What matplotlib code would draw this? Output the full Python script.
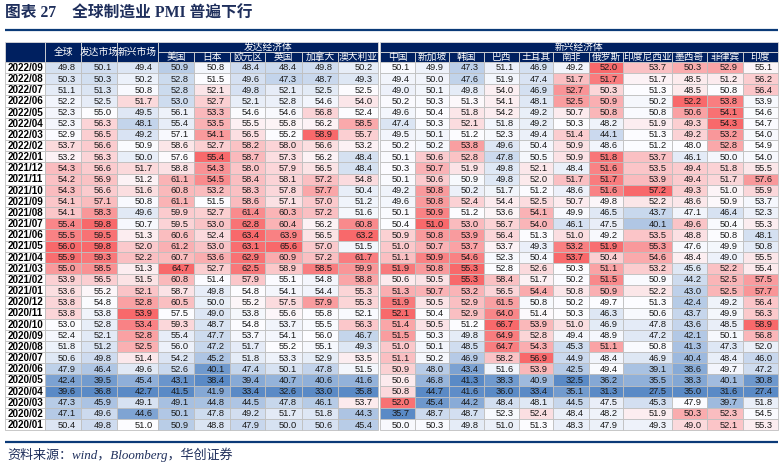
import numpy as np
import matplotlib
matplotlib.use("Agg")
import matplotlib.pyplot as plt
from matplotlib.patches import Rectangle
from matplotlib.colors import to_rgb

# 月份（行）
months = ["2022/09", "2022/08", "2022/07", "2022/06", "2022/05", "2022/04", "2022/03",
          "2022/02", "2022/01", "2021/12", "2021/11", "2021/10", "2021/09", "2021/08",
          "2021/07", "2021/06", "2021/05", "2021/04", "2021/03", "2021/02", "2021/01",
          "2020/12", "2020/11", "2020/10", "2020/09", "2020/08", "2020/07", "2020/06",
          "2020/05", "2020/04", "2020/03", "2020/02", "2020/01"]

# 列名
top_cols = ["全球", "发达市场", "新兴市场"]
dev_cols = ["美国", "日本", "欧元区", "英国", "加拿大", "澳大利亚"]
emg_cols = ["中国", "新加坡", "韩国", "巴西", "土耳其", "南非", "俄罗斯",
            "印度尼西亚", "墨西哥", "菲律宾", "印度"]

# PMI 数据
quanqiu = [49.8, 50.3, 51.1, 52.2, 52.3, 52.3, 52.9, 53.7, 53.2, 54.3, 54.2, 54.3, 54.1, 54.1, 55.4, 55.5, 56.0,
           55.9, 55.0, 53.9, 53.6, 53.8, 53.8, 53.0, 52.4, 51.8, 50.6, 47.9, 42.4, 39.6, 47.3, 47.1, 50.4]
fada = [50.1, 50.3, 51.3, 52.5, 55.0, 56.3, 56.5, 56.6, 56.3, 56.6, 56.9, 56.6, 57.1, 58.3, 59.8, 59.5, 59.8,
        59.3, 58.5, 56.5, 55.2, 54.8, 53.8, 52.8, 52.1, 51.2, 49.8, 46.4, 39.5, 36.8, 45.9, 49.6, 49.8]
xinxing = [49.4, 50.2, 50.8, 51.7, 49.5, 48.1, 49.2, 50.9, 50.0, 51.7, 51.2, 51.6, 50.8, 49.6, 50.7, 51.3, 52.0,
           52.2, 51.3, 51.5, 52.1, 52.8, 53.9, 53.4, 52.8, 52.5, 51.4, 49.6, 45.4, 42.7, 49.1, 44.6, 51.0]
usa = [50.9, 52.8, 52.8, 53.0, 56.1, 55.4, 57.1, 58.6, 57.6, 58.8, 61.1, 60.8, 61.1, 59.9, 59.5, 60.6, 61.2,
       60.7, 64.7, 60.8, 58.7, 60.5, 57.5, 59.3, 55.4, 56.0, 54.2, 52.6, 43.1, 41.5, 49.1, 50.1, 50.9]
japan = [50.8, 51.5, 52.1, 52.7, 53.3, 53.5, 54.1, 52.7, 55.4, 54.3, 54.5, 53.2, 51.5, 52.7, 53.0, 52.4, 53.0,
         53.6, 52.7, 51.4, 49.8, 50.0, 49.0, 48.7, 47.7, 47.2, 45.2, 40.1, 38.4, 41.9, 44.8, 47.8, 48.8]
euro = [48.4, 49.6, 49.8, 52.1, 54.6, 55.5, 56.5, 58.2, 58.7, 58.0, 58.4, 58.3, 58.6, 61.4, 62.8, 63.4, 63.1,
        62.9, 62.5, 57.9, 54.8, 55.2, 53.8, 54.8, 53.7, 51.7, 51.8, 47.4, 39.4, 33.4, 44.5, 49.2, 47.9]
uk = [48.4, 47.3, 52.1, 52.8, 54.6, 55.8, 55.2, 58.0, 57.3, 57.9, 58.1, 57.8, 57.1, 60.3, 60.4, 63.9, 65.6,
      60.9, 58.9, 55.1, 54.1, 57.5, 55.6, 53.7, 54.1, 55.2, 53.3, 50.1, 40.7, 32.6, 47.8, 51.7, 50.0]
canada = [49.8, 48.7, 52.5, 54.6, 56.8, 56.2, 58.9, 56.6, 56.2, 56.5, 57.2, 57.7, 57.0, 57.2, 56.2, 56.5, 57.0,
          57.2, 58.5, 54.8, 54.4, 57.9, 55.8, 55.5, 56.0, 55.1, 52.9, 47.8, 40.6, 33.0, 46.1, 51.8, 50.6]
australia = [50.2, 49.3, 52.5, 54.0, 52.4, 58.5, 55.7, 53.2, 48.4, 48.4, 54.8, 50.4, 51.2, 51.6, 60.8, 63.2, 51.5,
             61.7, 59.9, 58.8, 55.3, 55.3, 52.1, 56.3, 46.7, 49.3, 53.5, 51.5, 41.6, 35.8, 53.7, 44.3, 45.4]
china = [50.1, 49.4, 49.0, 50.2, 49.6, 47.4, 49.5, 50.2, 50.1, 50.3, 50.1, 49.2, 49.6, 50.1, 50.4, 50.9, 51.0,
         51.1, 51.9, 50.6, 51.3, 51.9, 52.1, 51.4, 51.5, 51.0, 51.1, 50.9, 50.6, 50.8, 52.0, 35.7, 50.0]
singapore = [49.9, 50.0, 50.1, 50.3, 50.4, 50.3, 50.1, 50.2, 50.6, 50.7, 50.6, 50.8, 50.8, 50.9, 51.0, 50.8, 50.7,
             50.9, 50.8, 50.5, 50.7, 50.5, 50.4, 50.5, 50.3, 50.1, 50.2, 48.0, 46.8, 44.7, 45.4, 48.7, 50.3]
korea = [47.3, 47.6, 49.8, 51.3, 51.8, 52.1, 51.2, 53.8, 52.8, 51.9, 50.9, 50.2, 52.4, 51.2, 53.0, 53.9, 53.7,
         54.6, 55.3, 55.3, 53.2, 52.9, 52.9, 51.2, 49.8, 48.5, 46.9, 43.4, 41.3, 41.6, 44.2, 48.7, 49.8]
brazil = [51.1, 51.9, 54.0, 54.1, 54.2, 51.8, 52.3, 49.6, 47.8, 49.8, 49.8, 51.7, 54.4, 53.6, 56.7, 56.4, 53.7,
          52.3, 52.8, 58.4, 56.5, 61.5, 64.0, 66.7, 64.9, 64.7, 58.2, 51.6, 38.3, 36.0, 48.4, 52.3, 51.0]
turkey = [46.9, 47.4, 46.9, 48.1, 49.2, 49.2, 49.4, 50.4, 50.5, 52.1, 52.0, 51.2, 52.5, 54.1, 54.0, 51.3, 49.3,
          50.4, 52.6, 51.7, 54.4, 50.8, 51.4, 53.9, 52.8, 54.3, 56.9, 53.9, 40.9, 33.4, 48.1, 52.4, 51.3]
safrica = [49.2, 51.7, 52.7, 52.5, 50.7, 50.3, 51.4, 50.9, 50.9, 48.4, 51.7, 48.6, 50.7, 49.9, 46.1, 51.0, 53.2,
           53.7, 50.3, 50.2, 50.8, 50.2, 50.3, 51.0, 49.4, 45.3, 44.9, 42.5, 32.5, 35.1, 44.5, 48.4, 48.3]
russia = [52.0, 51.7, 50.3, 50.9, 50.8, 48.2, 44.1, 48.6, 51.8, 51.6, 51.7, 51.6, 49.8, 46.5, 47.5, 49.2, 51.9,
          50.4, 51.1, 51.5, 50.9, 49.7, 46.3, 46.9, 48.9, 51.1, 48.4, 49.4, 36.2, 31.3, 47.5, 48.2, 47.9]
indonesia = [53.7, 51.7, 51.3, 50.2, 50.8, 51.9, 51.3, 51.2, 53.7, 53.5, 53.9, 57.2, 52.2, 43.7, 40.1, 53.5, 55.3,
             54.6, 53.2, 50.9, 52.2, 51.3, 50.6, 47.8, 47.2, 50.8, 46.9, 39.1, 35.5, 27.5, 45.3, 51.9, 49.3]
mexico = [50.3, 48.5, 48.5, 52.2, 50.6, 49.3, 49.2, 48.0, 46.1, 49.4, 49.4, 49.3, 48.6, 47.1, 49.6, 48.8, 47.6,
          48.4, 45.6, 44.2, 43.0, 42.4, 43.7, 43.6, 42.1, 41.3, 40.4, 38.6, 38.3, 35.0, 47.9, 50.3, 49.0]
philippines = [52.9, 51.2, 50.8, 53.8, 54.1, 54.3, 53.2, 52.8, 50.0, 51.8, 51.7, 51.0, 50.9, 46.4, 50.4, 50.8, 49.9,
               49.0, 52.2, 52.5, 52.5, 49.2, 49.9, 48.5, 50.1, 47.3, 48.4, 49.7, 40.1, 31.6, 39.7, 52.3, 52.1]
india = [55.1, 56.2, 56.4, 53.9, 54.6, 54.7, 54.0, 54.9, 54.0, 55.5, 57.6, 55.9, 53.7, 52.3, 55.3, 48.1, 50.8,
         55.5, 55.4, 57.5, 57.7, 56.4, 56.3, 58.9, 56.8, 52.0, 46.0, 47.2, 30.8, 27.4, 51.8, 54.5, 55.3]

series = [quanqiu, fada, xinxing, usa, japan, euro, uk, canada, australia,
          china, singapore, korea, brazil, turkey, safrica, russia, indonesia, mexico, philippines, india]
col_names = top_cols + dev_cols + emg_cols

# 版式（像素）
W, H = 783, 468
NAVY = "#002060"
GRID = "#BFBFBF"
LOW, MID, HIGH = to_rgb("#5A8AC6"), to_rgb("#FCFCFF"), to_rgb("#F8696B")
col_w = [36, 36, 41, 36, 36, 35, 37, 36, 40, 35, 34, 35, 35, 34, 36, 34, 49, 35, 36, 35]
left, lab_w, gap = 5, 40, 2
head_top, head_h = 42, 10
row_top, row_h = 62, 11.16


def scale_color(v, lo, md, hi):
    # Excel式三色刻度：最小值-中位数-最大值
    if v <= md:
        t = 0 if md == lo else (v - lo) / (md - lo)
        return tuple(LOW[i] + (MID[i] - LOW[i]) * t for i in range(3))
    t = 0 if hi == md else (v - md) / (hi - md)
    return tuple(MID[i] + (HIGH[i] - MID[i]) * t for i in range(3))


fig = plt.figure(figsize=(W / 100, H / 100), dpi=100)
ax = fig.add_axes([0, 0, 1, 1])
ax.set_xlim(0, W)
ax.set_ylim(H, 0)
ax.axis("off")

# 列左边界
xs = []
x = left + lab_w
for j, w in enumerate(col_w):
    xs.append(x)
    x += w
    if j == len(top_cols) + len(dev_cols) - 1:
        x += gap
right = x

num_font = ["Liberation Sans", "DejaVu Sans"]
cjk_font = ["Noto Sans CJK SC", "DejaVu Sans"]

# 表头
ax.add_patch(Rectangle((left, head_top), lab_w, 2 * head_h, fc=NAVY, ec="#D9D9D9", lw=0.6))
for j, name in enumerate(col_names):
    w = col_w[j]
    if j < len(top_cols):
        ax.add_patch(Rectangle((xs[j], head_top), w, 2 * head_h, fc=NAVY, ec="#D9D9D9", lw=0.6))
        ax.text(xs[j] + w / 2, head_top + head_h, name, ha="center", va="center",
                color="white", fontsize=7, family=cjk_font)
    else:
        ax.add_patch(Rectangle((xs[j], head_top + head_h), w, head_h, fc=NAVY, ec="#D9D9D9", lw=0.6))
        ax.text(xs[j] + w / 2, head_top + 1.5 * head_h, name, ha="center", va="center",
                color="white", fontsize=7, family=cjk_font)

groups = [("发达经济体", len(top_cols), len(top_cols) + len(dev_cols) - 1),
          ("新兴经济体", len(top_cols) + len(dev_cols), len(col_names) - 1)]
for label, a, b in groups:
    gx0, gx1 = xs[a], xs[b] + col_w[b]
    ax.add_patch(Rectangle((gx0, head_top), gx1 - gx0, head_h, fc=NAVY, ec="#D9D9D9", lw=0.6))
    ax.text((gx0 + gx1) / 2, head_top + head_h / 2, label, ha="center", va="center",
            color="white", fontsize=7, family=cjk_font)

# 数据区
for i, m in enumerate(months):
    y = row_top + i * row_h
    ax.add_patch(Rectangle((left, y), lab_w, row_h, fc="white", ec=GRID, lw=0.6))
    ax.text(left + lab_w / 2, y + row_h / 2 + 0.3, m, ha="center", va="center",
            fontsize=7.1, fontweight="bold", color="black", family=num_font)

for j, vals in enumerate(series):
    arr = np.array(vals)
    lo, md, hi = arr.min(), np.median(arr), arr.max()
    for i, v in enumerate(vals):
        y = row_top + i * row_h
        ax.add_patch(Rectangle((xs[j], y), col_w[j], row_h, fc=scale_color(v, lo, md, hi),
                               ec=GRID, lw=0.6))
        ax.text(xs[j] + col_w[j] - 5, y + row_h / 2 + 0.3, f"{v:.1f}", ha="right", va="center",
                fontsize=6.7, color="#1A1A1A", family=num_font)

# 标题与来源
ax.text(left, 14, "图表 27    全球制造业 PMI 普遍下行", ha="left", va="center", fontsize=11.3,
        fontweight="bold", color="#1F2F5C", family=["Liberation Serif", "Noto Sans CJK SC"])
ax.plot([left, right], [30, 30], color="#0B3A78", lw=1.6, solid_capstyle="butt")
ax.plot([left, right], [442, 442], color="#0B3A78", lw=1.6, solid_capstyle="butt")
ax.text(left + 2, 455, "资料来源：wind，Bloomberg，华创证券", ha="left", va="center", fontsize=9.4,
        style="italic", color="#1F2F5C", family=["Liberation Serif", "Noto Sans CJK SC"])

fig.savefig("out.png", dpi=100)
